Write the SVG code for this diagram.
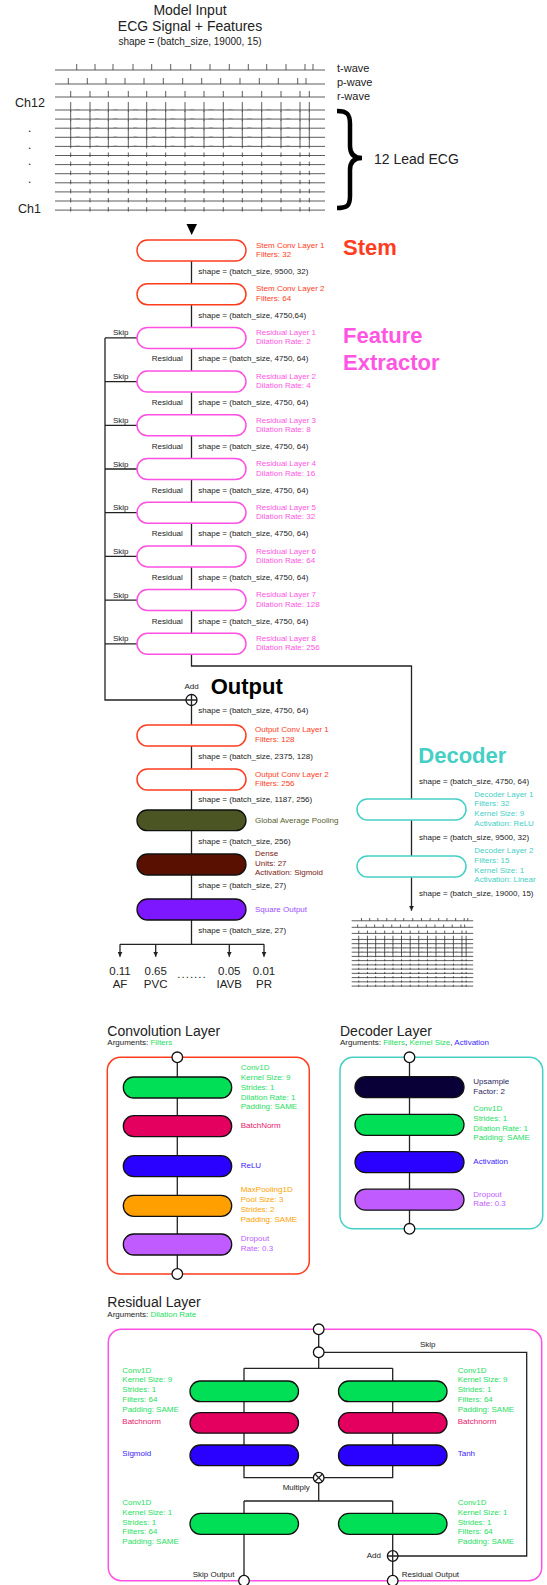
<svg xmlns="http://www.w3.org/2000/svg" xmlns:xlink="http://www.w3.org/1999/xlink" width="547" height="1585" viewBox="0 0 547 1585">
<style>
text{font-family:"Liberation Sans",Arial,Helvetica,sans-serif;fill:#222}
.f8{font-size:8px}
.f11{font-size:11px}
.f14{font-size:14px}
.big{font-size:22px;font-weight:bold}
.num{font-size:11.5px;text-anchor:middle}
.mid{text-anchor:middle}
.cStem{fill:#ff3c1e}
.cRes{fill:#ff55e3}
.cDec{fill:#45cfc5}
.cGreen{fill:#1ee062}
.cCrim{fill:#e8206a}
.cBlue{fill:#3c1cff}
.cOrange{fill:#ffa200}
.cPurp{fill:#c060ff}
.cOlive{fill:#56612f}
.cMaroon{fill:#7a2212}
.cSq{fill:#9a4cff}
.cNavy{fill:#2b2860}
.bStem{fill:#fff;stroke:#ff3c1e;stroke-width:1.5}
.bRes{fill:#fff;stroke:#ff50e3;stroke-width:1.5}
.bDec{fill:#fff;stroke:#45cfc5;stroke-width:1.5}
.bF{stroke:#111;stroke-width:1.3}
.frame{fill:none;stroke-width:1.5}
.ln{fill:none;stroke:#222;stroke-width:1.3}
.circ{fill:#fff;stroke:#111;stroke-width:1.3}
.ecgl{fill:none;stroke:#333;stroke-width:0.8}
.ecgs{fill:none;stroke:#777;stroke-width:0.6}
</style>
<defs>
<marker id="arr" markerWidth="5" markerHeight="5" refX="5" refY="2.5" orient="auto" markerUnits="userSpaceOnUse"><path d="M0,0L5,2.5L0,5z" fill="#222"/></marker>
<path id="beatsBig" vector-effect="non-scaling-stroke" class="ecgl" d="M70.7,2V-8M90,2V-8M108.3,2V-8M128.3,2V-8M146.7,2V-8M165.7,2V-8M185,2V-8M204,2V-8M223.3,2V-8M242.3,2V-8M261.7,2V-8M281,2V-8M300,2V-8M309.3,2V-8"/>
<path id="twaves" vector-effect="non-scaling-stroke" class="ecgs" d="M75.2,0q2.5,-1.3 5,0M94.5,0q2.5,-1.3 5,0M112.8,0q2.5,-1.3 5,0M132.8,0q2.5,-1.3 5,0M151.2,0q2.5,-1.3 5,0M170.2,0q2.5,-1.3 5,0M189.5,0q2.5,-1.3 5,0M208.5,0q2.5,-1.3 5,0M227.8,0q2.5,-1.3 5,0M246.8,0q2.5,-1.3 5,0M266.2,0q2.5,-1.3 5,0M285.5,0q2.5,-1.3 5,0"/>
<path id="beatsSmall" vector-effect="non-scaling-stroke" class="ecgl" d="M70.7,1.5V-3M90,1.5V-3M108.3,1.5V-3M128.3,1.5V-3M146.7,1.5V-3M165.7,1.5V-3M185,1.5V-3M204,1.5V-3M223.3,1.5V-3M242.3,1.5V-3M261.7,1.5V-3M281,1.5V-3M300,1.5V-3M309.3,1.5V-3"/>
</defs>

<g id="header">
<text class="f14 mid" x="190" y="15">Model Input</text>
<text class="f14 mid" x="190" y="31">ECG Signal + Features</text>
<text class="mid" style="font-size:10px" x="190" y="45">shape = (batch_size, 19000, 15)</text>
</g>

<g id="ecg-input">
<g id="ecg">
<path vector-effect="non-scaling-stroke" class="ecgl" d="M55,70H325M55,84H325M55,97H325"/>
<path vector-effect="non-scaling-stroke" class="ecgl" d="M76.7,70v-6M95,70v-6M113,70v-6M133,70v-6M151.7,70v-6M170.7,70v-6M190.7,70v-6M210,70v-6M229.3,70v-6M248.3,70v-6M266.7,70v-6M286,70v-6M305,70v-6M313,70v-6"/>
<path vector-effect="non-scaling-stroke" class="ecgl" d="M68.3,84v-6M87.3,84v-6M106,84v-6M125,84v-6M144,84v-6M163.3,84v-6M182.7,84v-6M201.7,84v-6M220.7,84v-6M240,84v-6M259.3,84v-6M278.3,84v-6M297.7,84v-6M306,84v-6"/>
<path vector-effect="non-scaling-stroke" class="ecgl" d="M70.7,97v-6M90,97v-6M108.3,97v-6M128.3,97v-6M146.7,97v-6M165.7,97v-6M185,97v-6M204,97v-6M223.3,97v-6M242.3,97v-6M261.7,97v-6M281,97v-6M300,97v-6M309.3,97v-6"/>
<path vector-effect="non-scaling-stroke" class="ecgl" d="M55,110H325M55,119.1H325M55,128.2H325M55,137.3H325M55,146.4H325M55,155.5H325M55,164.6H325M55,173.7H325M55,182.8H325M55,191.9H325M55,201H325M55,210.1H325"/>
<use href="#beatsBig" y="110"/>
<use href="#beatsBig" y="119.1"/>
<use href="#beatsBig" y="128.2"/>
<use href="#beatsBig" y="137.3"/>
<use href="#beatsBig" y="146.4"/>
<use href="#twaves" y="110"/>
<use href="#twaves" y="119.1"/>
<use href="#twaves" y="128.2"/>
<use href="#twaves" y="137.3"/>
<use href="#twaves" y="146.4"/>
<use href="#beatsSmall" y="155.5"/>
<use href="#beatsSmall" y="164.6"/>
<use href="#beatsSmall" y="173.7"/>
<use href="#beatsSmall" y="182.8"/>
<use href="#beatsSmall" y="191.9"/>
<use href="#beatsSmall" y="201"/>
<use href="#beatsSmall" y="210.1"/>
</g>
<text class="f11" x="337" y="72">t-wave</text>
<text class="f11" x="337" y="86">p-wave</text>
<text class="f11" x="337" y="100">r-wave</text>
<text style="font-size:12.5px" x="15" y="107">Ch12</text>
<text style="font-size:12px" x="28" y="132">.</text>
<text style="font-size:12px" x="28" y="149">.</text>
<text style="font-size:12px" x="28" y="165">.</text>
<text style="font-size:12px" x="28" y="182.5">.</text>
<text style="font-size:12.5px" x="18" y="213">Ch1</text>
<path d="M337,111C347,111 350,114 350,124L350,146C350,154 354,158 362,158C354,158 350,162 350,170L350,196C350,206 347,208 337,208" fill="none" stroke="#000" stroke-width="4.5"/>
<text class="f14" x="374" y="163.5">12 Lead ECG</text>
</g>

<g id="connectors">
<polygon points="186.5,224 197,224 191.7,235" fill="#000"/>
<path class="ln" d="M191.5,261V283.7M191.5,304.7V327.4M191.5,348.4V371.1M191.5,392.1V414.8M191.5,435.8V458.5M191.5,479.5V502.2M191.5,523.2V545.9M191.5,566.9V589.6M191.5,610.6V633.3"/>
<path class="ln" d="M191.5,654.3V666H411.5V799M411.5,820V856"/>
<path class="ln" d="M411.5,877V910.7" marker-end="url(#arr)"/>
<path class="ln" d="M105,337.9V700H186M105,337.9H137M105,381.6H137M105,425.3H137M105,469H137M105,512.7H137M105,556.4H137M105,600.1H137M105,643.8H137"/>
<path class="ln" d="M191.5,705.5V725M191.5,746V769M191.5,790V810M191.5,830.7V854M191.5,875V899M191.5,920V944.3M120,944.3H264"/>
<path class="ln" d="M120,944.3V956.7" marker-end="url(#arr)"/>
<path class="ln" d="M155.7,944.3V956.7" marker-end="url(#arr)"/>
<path class="ln" d="M229.3,944.3V956.7" marker-end="url(#arr)"/>
<path class="ln" d="M264,944.3V956.7" marker-end="url(#arr)"/>
<path class="ln" d="M177.3,1057.3V1274"/>
<path class="ln" d="M409.5,1057.3V1228.8"/>
<path class="ln" d="M318.7,1329.3V1368.3M324,1352.3H526.7V1556H392.7M244,1368.3H392.7M244,1368.3V1477.7H392.7V1368.3M318.7,1477.7V1501M244,1501H392.7M244,1501V1580.7M392.7,1501V1580.7"/>
</g>

<g id="labels-main">
<text class="f8" x="198.3" y="274">shape = (batch_size, 9500, 32)</text>
<text class="f8" x="198.3" y="317.7">shape = (batch_size, 4750,64)</text>
<text class="f8" x="198.3" y="361.4">shape = (batch_size, 4750, 64)</text>
<text class="f8" x="198.3" y="405.1">shape = (batch_size, 4750, 64)</text>
<text class="f8" x="198.3" y="448.8">shape = (batch_size, 4750, 64)</text>
<text class="f8" x="198.3" y="492.5">shape = (batch_size, 4750, 64)</text>
<text class="f8" x="198.3" y="536.2">shape = (batch_size, 4750, 64)</text>
<text class="f8" x="198.3" y="579.9">shape = (batch_size, 4750, 64)</text>
<text class="f8" x="198.3" y="623.6">shape = (batch_size, 4750, 64)</text>
<text class="f8" x="151.7" y="361.4">Residual</text>
<text class="f8" x="151.7" y="405.1">Residual</text>
<text class="f8" x="151.7" y="448.8">Residual</text>
<text class="f8" x="151.7" y="492.5">Residual</text>
<text class="f8" x="151.7" y="536.2">Residual</text>
<text class="f8" x="151.7" y="579.9">Residual</text>
<text class="f8" x="151.7" y="623.6">Residual</text>
<text class="f8" x="113" y="335.4">Skip</text>
<text class="f8" x="113" y="379.1">Skip</text>
<text class="f8" x="113" y="422.8">Skip</text>
<text class="f8" x="113" y="466.5">Skip</text>
<text class="f8" x="113" y="510.2">Skip</text>
<text class="f8" x="113" y="553.9">Skip</text>
<text class="f8" x="113" y="597.6">Skip</text>
<text class="f8" x="113" y="641.3">Skip</text>
<text class="f8 mid" x="191.5" y="689">Add</text>
<text class="f8" x="198.3" y="712.7">shape = (batch_size, 4750, 64)</text>
<text class="f8" x="198.3" y="759">shape = (batch_size, 2375, 128)</text>
<text class="f8" x="198.3" y="801.7">shape = (batch_size, 1187, 256)</text>
<text class="f8" x="198.3" y="844.3">shape = (batch_size, 256)</text>
<text class="f8" x="198.3" y="888.3">shape = (batch_size, 27)</text>
<text class="f8" x="198.3" y="933.3">shape = (batch_size, 27)</text>
<text class="f8" x="419" y="784">shape = (batch_size, 4750, 64)</text>
<text class="f8" x="419" y="840">shape = (batch_size, 9500, 32)</text>
<text class="f8" x="419" y="895.7">shape = (batch_size, 19000, 15)</text>
<text class="big cStem" x="343" y="255">Stem</text>
<text class="big cRes" x="343" y="343">Feature</text>
<text class="big cRes" x="343" y="370">Extractor</text>
<text class="big" x="210.7" y="694" style="fill:#000">Output</text>
<text class="big cDec" x="418.3" y="763.3">Decoder</text>
</g>

<g id="stem1"><rect class="bStem" x="137" y="240" width="109" height="21" rx="10.5"/><text class="f8 cStem" x="256" y="247.7">Stem Conv Layer 1</text><text class="f8 cStem" x="256" y="257">Filters: 32</text></g>
<g id="stem2"><rect class="bStem" x="137" y="283.7" width="109" height="21" rx="10.5"/><text class="f8 cStem" x="256" y="291.4">Stem Conv Layer 2</text><text class="f8 cStem" x="256" y="300.7">Filters: 64</text></g>
<g id="res1"><rect class="bRes" x="137" y="327.4" width="109" height="21" rx="10.5"/><text class="f8 cRes" x="256" y="335.1">Residual Layer 1</text><text class="f8 cRes" x="256" y="344.4">Dilation Rate: 2</text></g>
<g id="res2"><rect class="bRes" x="137" y="371.1" width="109" height="21" rx="10.5"/><text class="f8 cRes" x="256" y="378.8">Residual Layer 2</text><text class="f8 cRes" x="256" y="388.1">Dilation Rate: 4</text></g>
<g id="res3"><rect class="bRes" x="137" y="414.8" width="109" height="21" rx="10.5"/><text class="f8 cRes" x="256" y="422.5">Residual Layer 3</text><text class="f8 cRes" x="256" y="431.8">Dilation Rate: 8</text></g>
<g id="res4"><rect class="bRes" x="137" y="458.5" width="109" height="21" rx="10.5"/><text class="f8 cRes" x="256" y="466.2">Residual Layer 4</text><text class="f8 cRes" x="256" y="475.5">Dilation Rate: 16</text></g>
<g id="res5"><rect class="bRes" x="137" y="502.2" width="109" height="21" rx="10.5"/><text class="f8 cRes" x="256" y="509.9">Residual Layer 5</text><text class="f8 cRes" x="256" y="519.2">Dilation Rate: 32</text></g>
<g id="res6"><rect class="bRes" x="137" y="545.9" width="109" height="21" rx="10.5"/><text class="f8 cRes" x="256" y="553.6">Residual Layer 6</text><text class="f8 cRes" x="256" y="562.9">Dilation Rate: 64</text></g>
<g id="res7"><rect class="bRes" x="137" y="589.6" width="109" height="21" rx="10.5"/><text class="f8 cRes" x="256" y="597.3">Residual Layer 7</text><text class="f8 cRes" x="256" y="606.6">Dilation Rate: 128</text></g>
<g id="res8"><rect class="bRes" x="137" y="633.3" width="109" height="21" rx="10.5"/><text class="f8 cRes" x="256" y="641">Residual Layer 8</text><text class="f8 cRes" x="256" y="650.3">Dilation Rate: 256</text></g>

<g id="add-main"><circle class="circ" cx="191.5" cy="700" r="5.5"/><path class="ln" d="M186,700H197M191.5,694.5V705.5"/></g>

<g id="outconv1"><rect class="bStem" x="137" y="725" width="109" height="21" rx="10.5"/><text class="f8 cStem" x="255" y="732.3">Output Conv Layer 1</text><text class="f8 cStem" x="255" y="742">Filters: 128</text></g>
<g id="outconv2"><rect class="bStem" x="137" y="769" width="109" height="21" rx="10.5"/><text class="f8 cStem" x="255" y="776.7">Output Conv Layer 2</text><text class="f8 cStem" x="255" y="786">Filters: 256</text></g>
<g id="gap"><rect class="bF" fill="#4b5523" x="137" y="810" width="109" height="20.7" rx="10.3"/><text class="f8 cOlive" x="255" y="823.3">Global Average Pooling</text></g>
<g id="dense"><rect class="bF" fill="#5a1000" x="137" y="854" width="109" height="21" rx="10.5"/><text class="f8 cMaroon" x="255" y="856">Dense</text><text class="f8 cMaroon" x="255" y="865.7">Units: 27</text><text class="f8 cMaroon" x="255" y="875.3">Activation: Sigmoid</text></g>
<g id="square"><rect class="bF" fill="#7d17ff" x="137" y="899" width="109" height="21" rx="10.5"/><text class="f8 cSq" x="255" y="911.7">Square Output</text></g>

<g id="outputs">
<text class="num" x="120" y="975">0.11</text><text class="num" x="120" y="988">AF</text>
<text class="num" x="155.7" y="975">0.65</text><text class="num" x="155.7" y="988">PVC</text>
<text class="num" x="192" y="977.7" style="letter-spacing:1px">.......</text>
<text class="num" x="229.3" y="975">0.05</text><text class="num" x="229.3" y="988">IAVB</text>
<text class="num" x="264" y="975">0.01</text><text class="num" x="264" y="988">PR</text>
</g>

<g id="dec1"><rect class="bDec" x="357" y="799" width="109" height="21" rx="10.5"/><text class="f8 cDec" x="474.3" y="796.7">Decoder Layer 1</text><text class="f8 cDec" x="474.3" y="806.4">Filters: 32</text><text class="f8 cDec" x="474.3" y="816">Kernel Size: 9</text><text class="f8 cDec" x="474.3" y="825.7">Activation: ReLU</text></g>
<g id="dec2"><rect class="bDec" x="357" y="856" width="109" height="21" rx="10.5"/><text class="f8 cDec" x="474.3" y="853.3">Decoder Layer 2</text><text class="f8 cDec" x="474.3" y="863">Filters: 15</text><text class="f8 cDec" x="474.3" y="872.7">Kernel Size: 1</text><text class="f8 cDec" x="474.3" y="882.3">Activation: Linear</text></g>

<g id="ecg-output"><use href="#ecg" transform="translate(351.7,918) scale(0.45,0.466) translate(-55,-64)"/></g>

<g id="conv-layer">
<text class="f14" x="107.3" y="1036">Convolution Layer</text>
<text class="f8" x="107.3" y="1045">Arguments: <tspan class="cGreen">Filters</tspan></text>
<rect class="frame" stroke="#ff3c1e" x="107.3" y="1057.3" width="202" height="216.7" rx="13"/>
<circle class="circ" cx="177.3" cy="1057.3" r="5.3"/>
<circle class="circ" cx="177.3" cy="1274" r="5.3"/>
<rect class="bF" fill="#00df55" x="123.3" y="1077" width="108.4" height="21" rx="10.5"/>
<rect class="bF" fill="#e4005f" x="123.3" y="1115.7" width="108.4" height="21" rx="10.5"/>
<rect class="bF" fill="#2a00ff" x="123.3" y="1155.7" width="108.4" height="21" rx="10.5"/>
<rect class="bF" fill="#ffa000" x="123.3" y="1195.3" width="108.4" height="21" rx="10.5"/>
<rect class="bF" fill="#c05cff" x="123.3" y="1234" width="108.4" height="21" rx="10.5"/>
<text class="f8 cGreen" x="240.7" y="1070">Conv1D</text>
<text class="f8 cGreen" x="240.7" y="1080">Kernel Size: 9</text>
<text class="f8 cGreen" x="240.7" y="1089.7">Strides: 1</text>
<text class="f8 cGreen" x="240.7" y="1099.7">Dilation Rate: 1</text>
<text class="f8 cGreen" x="240.7" y="1109.3">Padding: SAME</text>
<text class="f8 cCrim" x="240.7" y="1128.3">BatchNorm</text>
<text class="f8 cBlue" x="240.7" y="1168.3">ReLU</text>
<text class="f8 cOrange" x="240.7" y="1192.3">MaxPooling1D</text>
<text class="f8 cOrange" x="240.7" y="1202">Pool Size: 3</text>
<text class="f8 cOrange" x="240.7" y="1212">Strides: 2</text>
<text class="f8 cOrange" x="240.7" y="1221.7">Padding: SAME</text>
<text class="f8 cPurp" x="240.7" y="1241">Dropout</text>
<text class="f8 cPurp" x="240.7" y="1250.7">Rate: 0.3</text>
</g>

<g id="decoder-layer">
<text class="f14" x="340" y="1036">Decoder Layer</text>
<text class="f8" x="340" y="1045">Arguments: <tspan class="cGreen">Filters</tspan>, <tspan class="cGreen">Kernel Size</tspan>, <tspan class="cBlue">Activation</tspan></text>
<rect class="frame" stroke="#45cfc5" x="340" y="1057.3" width="202.7" height="171.5" rx="13"/>
<circle class="circ" cx="409.5" cy="1057.3" r="5.3"/>
<circle class="circ" cx="409.5" cy="1228.8" r="5.3"/>
<rect class="bF" fill="#0a0038" x="355" y="1076.7" width="109" height="21" rx="10.5"/>
<rect class="bF" fill="#00df55" x="355" y="1114.3" width="109" height="21" rx="10.5"/>
<rect class="bF" fill="#2a00ff" x="355" y="1151.7" width="109" height="21" rx="10.5"/>
<rect class="bF" fill="#c05cff" x="355" y="1189.2" width="109" height="21" rx="10.5"/>
<text class="f8 cNavy" x="473.3" y="1084">Upsample</text>
<text class="f8 cNavy" x="473.3" y="1093.7">Factor: 2</text>
<text class="f8 cGreen" x="473.3" y="1111">Conv1D</text>
<text class="f8 cGreen" x="473.3" y="1120.7">Strides: 1</text>
<text class="f8 cGreen" x="473.3" y="1130.7">Dilation Rate: 1</text>
<text class="f8 cGreen" x="473.3" y="1140.3">Padding: SAME</text>
<text class="f8 cBlue" x="473.3" y="1164.3">Activation</text>
<text class="f8 cPurp" x="473.3" y="1196.5">Dropout</text>
<text class="f8 cPurp" x="473.3" y="1206">Rate: 0.3</text>
</g>

<g id="residual-layer">
<text class="f14" x="107.3" y="1306.7">Residual Layer</text>
<text class="f8" x="107.3" y="1316.7">Arguments: <tspan class="cGreen">Dilation Rate</tspan></text>
<rect class="frame" stroke="#ff50e3" x="108.3" y="1329.3" width="433.4" height="251.4" rx="13"/>
<circle class="circ" cx="318.7" cy="1329.3" r="5.3"/>
<circle class="circ" cx="318.7" cy="1352.3" r="5.3"/>
<text class="f8" x="420" y="1347.3">Skip</text>
<rect class="bF" fill="#00df55" x="190" y="1381" width="108.5" height="20.7" rx="10.3"/>
<rect class="bF" fill="#00df55" x="338.5" y="1381" width="108.5" height="20.7" rx="10.3"/>
<rect class="bF" fill="#e4005f" x="190" y="1412.7" width="108.5" height="20.5" rx="10.2"/>
<rect class="bF" fill="#e4005f" x="338.5" y="1412.7" width="108.5" height="20.5" rx="10.2"/>
<rect class="bF" fill="#2a00ff" x="190" y="1445" width="108.5" height="20.7" rx="10.3"/>
<rect class="bF" fill="#2a00ff" x="338.5" y="1445" width="108.5" height="20.7" rx="10.3"/>
<circle class="circ" cx="318.7" cy="1477.7" r="5.3"/>
<path class="ln" d="M315,1474L322.4,1481.4M322.4,1474L315,1481.4"/>
<text class="f8" x="282.7" y="1490">Multiply</text>
<rect class="bF" fill="#00df55" x="190" y="1513.3" width="108.5" height="21" rx="10.5"/>
<rect class="bF" fill="#00df55" x="338.5" y="1513.3" width="108.5" height="21" rx="10.5"/>
<circle class="circ" cx="392.7" cy="1556" r="5.3"/>
<path class="ln" d="M387.4,1556H398M392.7,1550.7V1561.3"/>
<text class="f8" x="366.7" y="1557.7">Add</text>
<circle class="circ" cx="244" cy="1580.7" r="5.3"/>
<circle class="circ" cx="392.7" cy="1580.7" r="5.3"/>
<text class="f8" x="192.7" y="1576.7">Skip Output</text>
<text class="f8" x="401.7" y="1576.7">Residual Output</text>
<text class="f8 cGreen" x="122.3" y="1372.7">Conv1D</text>
<text class="f8 cGreen" x="122.3" y="1382.3">Kernel Size: 9</text>
<text class="f8 cGreen" x="122.3" y="1392">Strides: 1</text>
<text class="f8 cGreen" x="122.3" y="1401.7">Filters: 64</text>
<text class="f8 cGreen" x="122.3" y="1411.7">Padding: SAME</text>
<text class="f8 cCrim" x="122.3" y="1424">Batchnorm</text>
<text class="f8 cBlue" x="122.3" y="1456">Sigmoid</text>
<text class="f8 cGreen" x="457.7" y="1372.7">Conv1D</text>
<text class="f8 cGreen" x="457.7" y="1382.3">Kernel Size: 9</text>
<text class="f8 cGreen" x="457.7" y="1392">Strides: 1</text>
<text class="f8 cGreen" x="457.7" y="1401.7">Filters: 64</text>
<text class="f8 cGreen" x="457.7" y="1411.7">Padding: SAME</text>
<text class="f8 cCrim" x="457.7" y="1424">Batchnorm</text>
<text class="f8 cBlue" x="457.7" y="1456">Tanh</text>
<text class="f8 cGreen" x="122.3" y="1505.3">Conv1D</text>
<text class="f8 cGreen" x="122.3" y="1515">Kernel Size: 1</text>
<text class="f8 cGreen" x="122.3" y="1524.7">Strides: 1</text>
<text class="f8 cGreen" x="122.3" y="1534.3">Filters: 64</text>
<text class="f8 cGreen" x="122.3" y="1544.3">Padding: SAME</text>
<text class="f8 cGreen" x="457.7" y="1505.3">Conv1D</text>
<text class="f8 cGreen" x="457.7" y="1515">Kernel Size: 1</text>
<text class="f8 cGreen" x="457.7" y="1524.7">Strides: 1</text>
<text class="f8 cGreen" x="457.7" y="1534.3">Filters: 64</text>
<text class="f8 cGreen" x="457.7" y="1544.3">Padding: SAME</text>
</g>
</svg>
